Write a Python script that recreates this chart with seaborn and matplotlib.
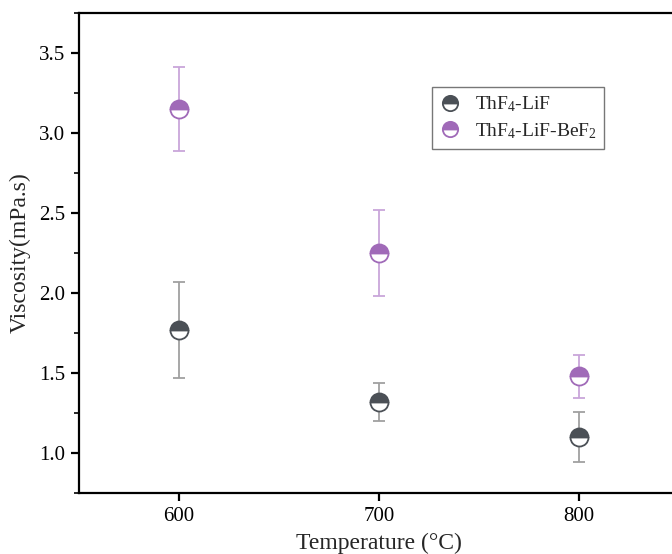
import matplotlib
matplotlib.use("Agg")
import matplotlib.pyplot as plt
import seaborn as sns
import numpy as np
from matplotlib.ticker import MultipleLocator, FormatStrFormatter
from matplotlib.lines import Line2D

temps = [600, 700, 800]
lif_vals = [1.77, 1.32, 1.10]
lif_err = [0.30, 0.12, 0.155]
bef_vals = [3.15, 2.25, 1.48]
bef_err = [0.26, 0.27, 0.135]
labels = ["ThF$_4$-LiF", "ThF$_4$-LiF-BeF$_2$"]

sns.set_theme(style="ticks")
plt.rcParams['font.family'] = ['Liberation Serif', 'DejaVu Serif']
plt.rcParams['mathtext.fontset'] = 'custom'
plt.rcParams['mathtext.rm'] = 'Liberation Serif'
plt.rcParams['mathtext.it'] = 'Liberation Serif'

fig = plt.figure(figsize=(6.72, 5.54), dpi=100)
ax = fig.add_axes([79/672, 1-493/554, 600/672, 480/554])

series = [
    (lif_vals, lif_err, "#4b5056", "#a0a0a0", labels[0]),
    (bef_vals, bef_err, "#a06ab8", "#c9a6da", labels[1]),
]
handles = []
for vals, err, mc, ec, lab in series:
    ax.errorbar(temps, vals, yerr=err, fmt='none',
                ecolor=ec, elinewidth=1.3, capsize=4, capthick=1.3, zorder=2)
    sns.lineplot(x=temps, y=vals, ax=ax, linestyle='', marker='o', markersize=13,
                 markeredgewidth=1.3, markerfacecolor=mc, markeredgecolor=mc,
                 fillstyle='top', markerfacecoloralt='white', zorder=4,
                 color=mc, legend=False)
    handles.append(Line2D([], [], linestyle='', marker='o', markersize=11,
                          markeredgewidth=1.3, markerfacecolor=mc, markeredgecolor=mc,
                          fillstyle='top', markerfacecoloralt='white', label=lab))

ax.set_xlim(550, 850)
ax.set_ylim(0.75, 3.75)
ax.set_xticks(temps)
ax.set_yticks([1.0, 1.5, 2.0, 2.5, 3.0, 3.5])
ax.yaxis.set_minor_locator(MultipleLocator(0.25))
ax.yaxis.set_major_formatter(FormatStrFormatter('%.1f'))

for s in ['left', 'bottom', 'top', 'right']:
    ax.spines[s].set_linewidth(1.6)
    ax.spines[s].set_color('black')
ax.tick_params(axis='both', which='major', direction='out', length=6, width=1.6,
               labelsize=15, colors='black', pad=4)
ax.tick_params(axis='y', which='minor', direction='out', length=3.5, width=1.4)
ax.tick_params(top=False, right=False)

ax.set_xlabel("Temperature (°C)", fontsize=17, labelpad=5)
ax.set_ylabel("Viscosity(mPa.s)", fontsize=17, labelpad=6)

leg = ax.legend(handles=handles, loc='upper left', bbox_to_anchor=(432/672, 1-87/554),
                bbox_transform=fig.transFigure, frameon=True, fancybox=False,
                edgecolor='#555555', fontsize=14, handletextpad=0.8,
                borderpad=0.4, labelspacing=0.35, handlelength=1.0,
                borderaxespad=0)
leg.get_frame().set_linewidth(1.0)

fig.savefig("out.png", dpi=100)
